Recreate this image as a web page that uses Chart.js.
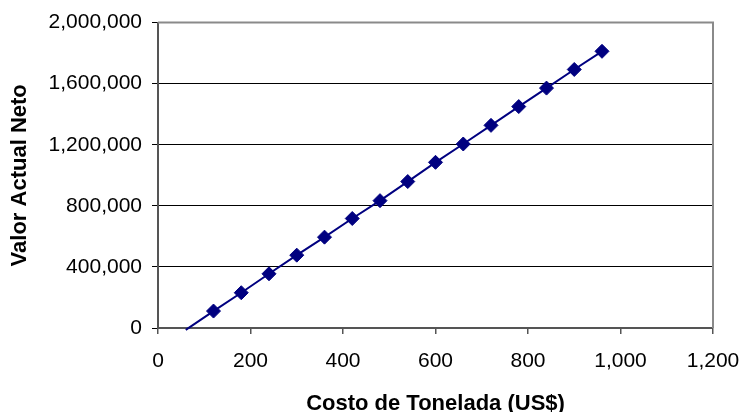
<!DOCTYPE html>
<html>
<head>
<meta charset="utf-8">
<script src="https://cdn.jsdelivr.net/npm/chart.js@4.4.1/dist/chart.umd.min.js"></script>
<style>
  html, body { margin: 0; padding: 0; background: #fff; }
  #wrap { width: 741px; height: 412px; position: relative; }
</style>
</head>
<body>
<div id="wrap"><canvas id="c" width="741" height="412"></canvas></div>
<script>
// Costo por tonelada (US$) y valor actual neto resultante
const costoTonelada = [60, 120, 180, 240, 300, 360, 420, 480, 540, 600, 660, 720, 780, 840, 900, 960];
const valorActualNeto = [-12000, 111000, 231000, 355000, 477000, 595000, 717000, 834000, 959000,
  1085000, 1205000, 1327000, 1450000, 1571000, 1693000, 1812000];
// el primer punto solo extiende la recta, sin marcador
const radioMarcador = [0, 7, 7, 7, 7, 7, 7, 7, 7, 7, 7, 7, 7, 7, 7, 7];

const xTicks = [0, 200, 400, 600, 800, 1000, 1200];
const yTicks = [0, 400000, 800000, 1200000, 1600000, 2000000];

const fmt = v => Number(v).toLocaleString('en-US');
const FONT = "'Liberation Sans', Arial, sans-serif";

// marco gris del área de trazado (arriba y derecha)
const marco = {
  id: 'marco',
  afterDatasetsDraw(chart) {
    const a = chart.chartArea, ctx = chart.ctx;
    ctx.save();
    ctx.strokeStyle = '#8a8a8a';
    ctx.lineWidth = 2;
    ctx.beginPath();
    ctx.moveTo(a.left, a.top);
    ctx.lineTo(a.right, a.top);
    ctx.lineTo(a.right, a.bottom);
    ctx.stroke();
    ctx.restore();
  }
};

new Chart(document.getElementById('c'), {
  type: 'scatter',
  data: {
    datasets: [{
      data: costoTonelada.map((x, i) => ({ x, y: valorActualNeto[i] })),
      showLine: true,
      borderColor: '#000080',
      backgroundColor: '#000080',
      borderWidth: 2,
      pointStyle: 'rectRot',
      pointRadius: radioMarcador,
      pointBorderWidth: 1,
      pointBorderColor: '#000080',
      pointBackgroundColor: '#000080',
      clip: false
    }]
  },
  options: {
    responsive: false,
    animation: false,
    layout: { padding: { top: 22, right: 28, bottom: 0, left: 0 } },
    plugins: { legend: { display: false }, tooltip: { enabled: false } },
    scales: {
      x: {
        type: 'linear',
        min: 0, max: 1200,
        afterBuildTicks: s => { s.ticks = xTicks.map(v => ({ value: v })); },
        afterFit: s => { s.height = 84; s.paddingLeft = 0; s.paddingRight = 0; },
        border: { display: true, color: '#555', width: 2 },
        grid: { drawOnChartArea: false, drawTicks: true, tickLength: 6, color: '#555', lineWidth: 1.5 },
        ticks: { color: '#000', font: { family: FONT, size: 21 }, padding: 15, maxRotation: 0, callback: v => fmt(v) },
        title: { display: true, text: 'Costo de Tonelada (US$)', color: '#000',
                 font: { family: FONT, size: 22, weight: 'bold' }, padding: { top: 0, bottom: -5 } }
      },
      y: {
        type: 'linear',
        min: 0, max: 2000000,
        afterBuildTicks: s => { s.ticks = yTicks.map(v => ({ value: v })); },
        afterFit: s => { s.width = 158; },
        border: { display: true, color: '#555', width: 2 },
        grid: { drawOnChartArea: true, drawTicks: true, tickLength: 6, color: '#000', lineWidth: 1 },
        ticks: { color: '#000', font: { family: FONT, size: 21 }, padding: 10, callback: v => fmt(v) },
        title: { display: true, text: 'Valor Actual Neto', color: '#000',
                 font: { family: FONT, size: 22, weight: 'bold' }, padding: { top: 7, bottom: 0 } }
      }
    }
  },
  plugins: [marco]
});
</script>
</body>
</html>
